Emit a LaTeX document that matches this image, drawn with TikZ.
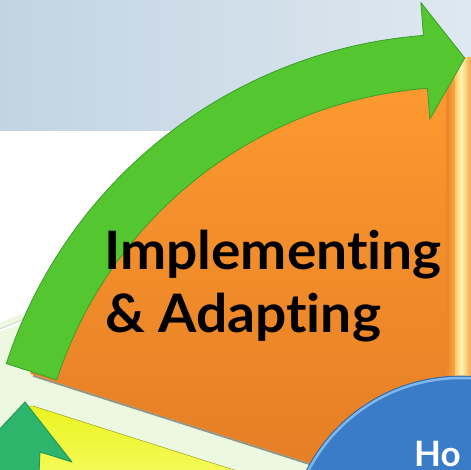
\documentclass[tikz,border=0pt]{standalone}
\usepackage{fontspec}
\newfontfamily\labelfont{Lato}[Ligatures={NoCommon,NoRare,NoContextual}, FakeStretch=1.04]
\newfontfamily\howfont{Lato}[Ligatures={NoCommon}]
\definecolor{bandL}{HTML}{C2D4E2}
\definecolor{bandR}{HTML}{DEE8F0}
\definecolor{palegreen}{HTML}{ECF8DF}
\definecolor{orangeT}{HTML}{FD9B30}
\definecolor{orangeB}{HTML}{E37B24}
\definecolor{arcgreen}{HTML}{54C62F}
\definecolor{arcgreenD}{HTML}{3C9E2A}
\definecolor{yel}{HTML}{EAF31F}
\definecolor{yelL}{HTML}{F5FB5A}
\definecolor{tealg}{HTML}{2DB56B}
\definecolor{tealgD}{HTML}{1F9452}
\definecolor{blu}{HTML}{3B7CC9}
\definecolor{bluL}{HTML}{8AC2F2}
\definecolor{stripA}{HTML}{FFC860}
\definecolor{stripB}{HTML}{FFF4B0}
\definecolor{stripC}{HTML}{F4A848}
\tikzset{
  greenarrow/.style={fill=arcgreen, draw=arcgreenD, line width=0.8pt, line join=round},
  tealarrow/.style={fill=tealg, draw=tealgD, line width=0.8pt, line join=round},
  bigtext/.style={anchor=base west, inner sep=0pt, font=\labelfont\bfseries\fontsize{53}{62}\selectfont, text=black},
}
\begin{document}
\begin{tikzpicture}[x=1pt,y=1pt]
\useasboundingbox (0,0) rectangle (471,469);
\clip (0,0) rectangle (471,469);
\fill[white] (0,0) rectangle (471,469);
% top band
\shade[left color=bandL, right color=bandR] (0,338) rectangle (471,469);
% pale green background lower left
\fill[palegreen] (0,-5) -- (0,138) -- (40,150) -- (471,0) -- (471,-5) -- cycle;
\fill[palegreen] (0,146) -- (24,156) -- (24,150) -- (0,140) -- cycle;
\draw[black!25, line width=1pt, opacity=.6] (0,140) -- (24,150);
% shadow under orange sector
\begin{scope}[shift={(460,-43)}]
  \draw[black!80, line width=2pt, opacity=.5] (162.3:448) -- (0,0);
\end{scope}
% orange sector
\begin{scope}[shift={(460,-42)}]
  \shade[top color=orangeT, bottom color=orangeB]
    (0,0) -- (162.3:451) arc[start angle=162.3, end angle=90, radius=451] -- cycle;
  \coordinate (C) at (0,0);
\end{scope}
% side strip
\shade[left color=orangeB!70!orangeT, right color=stripC] (446,80) rectangle (455,405);
\shade[left color=stripA, right color=stripB] (455,80) rectangle (461,411);
\shade[left color=stripB, right color=stripC] (461,80) rectangle (471,411);
% green curved arrow
\begin{scope}[shift={(460,-42)}]
  \path[greenarrow]
    (162:424) -- (162:477) arc[start angle=162, end angle=94.4, radius=477]
    -- (94.4:510) -- (89.4:453) -- (94.4:393) -- (94.4:424)
    arc[start angle=94.4, end angle=162, radius=424] -- cycle;
\end{scope}
% yellow segment
\shade[top color=yel, bottom color=yelL, draw=yel!60!black] (33,63) -- (250,-6) -- (20,-6) -- (20,63) -- cycle;
% teal arrow
\path[tealarrow] (25,67) -- (72,7) -- (40,17) -- (39,-6) -- (-5,-6) -- (-5,35) -- cycle;
% blue disc
\fill[blu] (461,-81) circle[radius=174];
\draw[bluL, line width=2.5pt, opacity=.85] (461,-81) circle[radius=172];
\draw[blu!80!black, line width=0.6pt] (461,-81) circle[radius=174];
% texts
\node[bigtext] (lblA) at (104,199) {Implementing};
\node[bigtext] (lblB) at (105,137) {\& Adapting};
\node[anchor=base west, inner sep=0pt, font=\howfont\bfseries\fontsize{35}{42}\selectfont, text=white] (how) at (414,3) {Ho};
\end{tikzpicture}
\end{document}
